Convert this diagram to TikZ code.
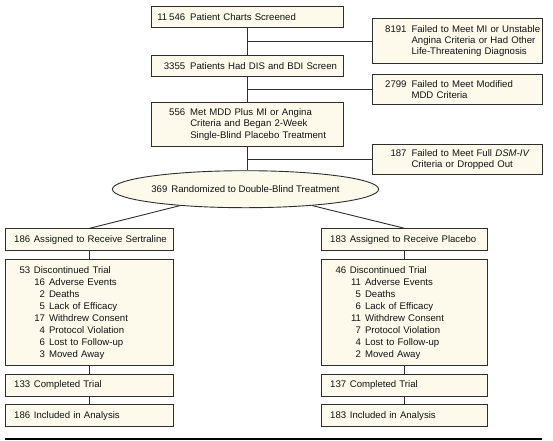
\documentclass[tikz,border=0pt]{standalone}
\usepackage{fontspec}
\setmainfont{Liberation Sans}
\usetikzlibrary{shapes.geometric}
\definecolor{boxfill}{HTML}{FDFAEC}
\definecolor{edgecol}{HTML}{2E2E2E}
\definecolor{txtcol}{HTML}{111111}
\newcommand\TopRow[2]{\hspace*{33.8pt}\llap{#1}\hspace*{5pt}#2}
\newcommand\TopCont[1]{\hspace*{38.8pt}#1}
\newcommand\BotRow[2]{\hspace*{24.8pt}\llap{#1}\hspace*{3.6pt}#2}
\newcommand\SubRow[2]{\hspace*{39.6pt}\llap{#1}\hspace*{4pt}#2}
\begin{document}
\begin{tikzpicture}[x=1pt,y=-1pt,
  box/.style={draw=edgecol, fill=boxfill, line width=0.9pt, inner xsep=0pt, inner ysep=0pt,
    align=left, text=txtcol, font=\fontsize{9.6}{11.3}\selectfont, anchor=north west},
  discbox/.style={box, font=\fontsize{9.6}{12}\selectfont},
  oval/.style={draw=edgecol, fill=boxfill, line width=0.9pt, ellipse, inner sep=0pt,
    text=txtcol, font=\fontsize{9.6}{11.3}\selectfont},
  conn/.style={draw=edgecol, line width=0.9pt},
  rule/.style={draw=black, line width=1.4pt}]
\useasboundingbox (0,0) rectangle (553,440);
% main column
\node[box, text width=191.7pt, minimum height=21.3pt] (b1) at (151,6)
  {\TopRow{11\hspace{2pt}546}{Patient Charts Screened}};
\node[box, text width=191.7pt, minimum height=20.7pt] (b2) at (151,55.3)
  {\TopRow{3355}{Patients Had DIS and BDI Screen}};
\node[box, text width=191.7pt, minimum height=43.7pt] (b3) at (151,102)
  {\TopRow{556}{Met MDD Plus MI or Angina}\\\TopCont{Criteria and Began 2-Week}\\\TopCont{Single-Blind Placebo Treatment}};
% exclusion boxes
\node[box, text width=170pt, minimum height=44.4pt] (r1) at (372.3,18.3)
  {\TopRow{8191}{Failed to Meet MI or Unstable}\\\TopCont{Angina Criteria or Had Other}\\\TopCont{Life-Threatening Diagnosis}};
\node[box, text width=170pt, minimum height=30.3pt] (r2) at (372.3,74)
  {\TopRow{2799}{Failed to Meet Modified}\\\TopCont{MDD Criteria}};
\node[box, text width=170pt, minimum height=30.3pt] (r3) at (372.3,144)
  {\TopRow{187}{Failed to Meet Full \textit{DSM-IV}}\\\TopCont{Criteria or Dropped Out}};
% randomization
\node[oval, minimum width=229pt, minimum height=37pt] (ell) at (245.5,189.2)
  {369\hspace{4pt}Randomized to Double-Blind Treatment};
% sertraline arm
\node[box, text width=168.3pt, minimum height=21.7pt] (la) at (5,228.3)
  {\BotRow{186}{Assigned to Receive Sertraline}};
\node[discbox, text width=168.3pt, minimum height=106.3pt] (ld) at (5,259)
  {\BotRow{53}{Discontinued Trial}\\\SubRow{16}{Adverse Events}\\\SubRow{2}{Deaths}\\\SubRow{5}{Lack of Efficacy}\\\SubRow{17}{Withdrew Consent}\\\SubRow{4}{Protocol Violation}\\\SubRow{6}{Lost to Follow-up}\\\SubRow{3}{Moved Away}};
\node[box, text width=168.3pt, minimum height=21.4pt] (lc) at (5,374.3)
  {\BotRow{133}{Completed Trial}};
\node[box, text width=168.3pt, minimum height=21.7pt] (li) at (5,404.3)
  {\BotRow{186}{Included in Analysis}};
% placebo arm
\node[box, text width=166.3pt, minimum height=21.7pt] (ra) at (321,228.3)
  {\BotRow{183}{Assigned to Receive Placebo}};
\node[discbox, text width=166.3pt, minimum height=106.3pt] (rd) at (321,259)
  {\BotRow{46}{Discontinued Trial}\\\SubRow{11}{Adverse Events}\\\SubRow{5}{Deaths}\\\SubRow{6}{Lack of Efficacy}\\\SubRow{11}{Withdrew Consent}\\\SubRow{7}{Protocol Violation}\\\SubRow{4}{Lost to Follow-up}\\\SubRow{2}{Moved Away}};
\node[box, text width=166.3pt, minimum height=21.4pt] (rc) at (321,374.3)
  {\BotRow{137}{Completed Trial}};
\node[box, text width=166.3pt, minimum height=21.7pt] (ri) at (321,404.3)
  {\BotRow{183}{Included in Analysis}};
% connectors
\draw[conn] (b1) -- (b2);
\draw[conn] (b2) -- (b3);
\draw[conn] (b3.south) -- (b3.south |- ell.north);
\draw[conn] (b1.south |- r1.west) -- (r1.west);
\draw[conn] (b2.south |- r2.west) -- (r2.west);
\draw[conn] (b3.south |- r3.west) -- (r3.west);
\draw[conn] (ell) -- (la.north);
\draw[conn] (ell) -- (ra.north);
\draw[conn] (la) -- (ld);
\draw[conn] (ld) -- (lc);
\draw[conn] (lc) -- (li);
\draw[conn] (ra) -- (rd);
\draw[conn] (rd) -- (rc);
\draw[conn] (rc) -- (ri);
% bottom rule
\coordinate (ruleL) at (5,439);
\coordinate (ruleR) at (542.3,439);
\draw[rule] (ruleL) -- (ruleR);
\end{tikzpicture}
\end{document}
